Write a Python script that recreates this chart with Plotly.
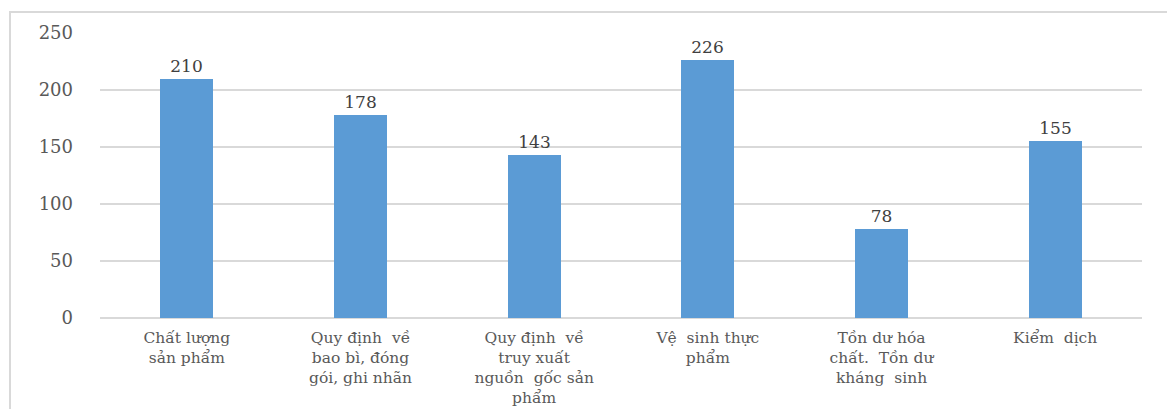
import plotly.graph_objects as go

# Categories (Vietnamese labels, wrapped as in the source layout)
categories = [
    "Chất lượng<br>sản phẩm",
    "Quy định  về<br>bao bì, đóng<br>gói, ghi nhãn",
    "Quy định  về<br>truy xuất<br>nguồn  gốc sản<br>phẩm",
    "Vệ  sinh thực<br>phẩm",
    "Tồn dư hóa<br>chất.  Tồn dư<br>kháng  sinh",
    "Kiểm  dịch",
]
values = [210, 178, 143, 226, 78, 155]
y_ticks = [0, 50, 100, 150, 200, 250]

FONT = "DejaVu Serif"
TEXT_GRAY = "#595959"
BAR_BLUE = "#5B9BD5"
GRID = "#d9d9d9"

x_pos = list(range(len(categories)))

fig = go.Figure(
    go.Bar(
        x=x_pos,
        y=values,
        width=0.305,
        marker=dict(color=BAR_BLUE, line=dict(width=0)),
        text=[str(v) for v in values],
        textposition="outside",
        textfont=dict(family=FONT, size=17, color="#404040"),
        cliponaxis=False,
    )
)

fig.update_layout(
    width=1167,
    height=409,
    margin=dict(l=100, r=25, t=33, b=91, autoexpand=False),
    paper_bgcolor="white",
    plot_bgcolor="white",
    showlegend=False,
    bargap=0,
    xaxis=dict(
        range=[-0.5, len(categories) - 0.5],
        tickmode="array",
        tickvals=x_pos,
        ticktext=categories,
        tickangle=0,
        showgrid=False,
        zeroline=False,
        showline=False,
        ticks="",
        automargin=False,
        ticklabelstandoff=8,
        tickfont=dict(family=FONT, size=15.5, color=TEXT_GRAY),
    ),
    yaxis=dict(
        range=[0, 250],
        tickmode="array",
        tickvals=y_ticks,
        ticktext=[str(t) for t in y_ticks],
        showgrid=True,
        gridcolor=GRID,
        gridwidth=1.5,
        zeroline=True,
        zerolinecolor=GRID,
        zerolinewidth=2,
        showline=False,
        ticks="",
        automargin=False,
        ticklabelstandoff=26,
        tickfont=dict(family=FONT, size=18, color=TEXT_GRAY),
    ),
    shapes=[
        dict(
            type="rect",
            xref="paper",
            yref="paper",
            x0=(10 - 100) / 1042,
            x1=(1175 - 100) / 1042,
            y0=(318 - 420) / 285,
            y1=1 + (33 - 12) / 285,
            line=dict(color=GRID, width=2),
            fillcolor="rgba(0,0,0,0)",
            layer="below",
        )
    ],
)

fig.write_html("out.html")
